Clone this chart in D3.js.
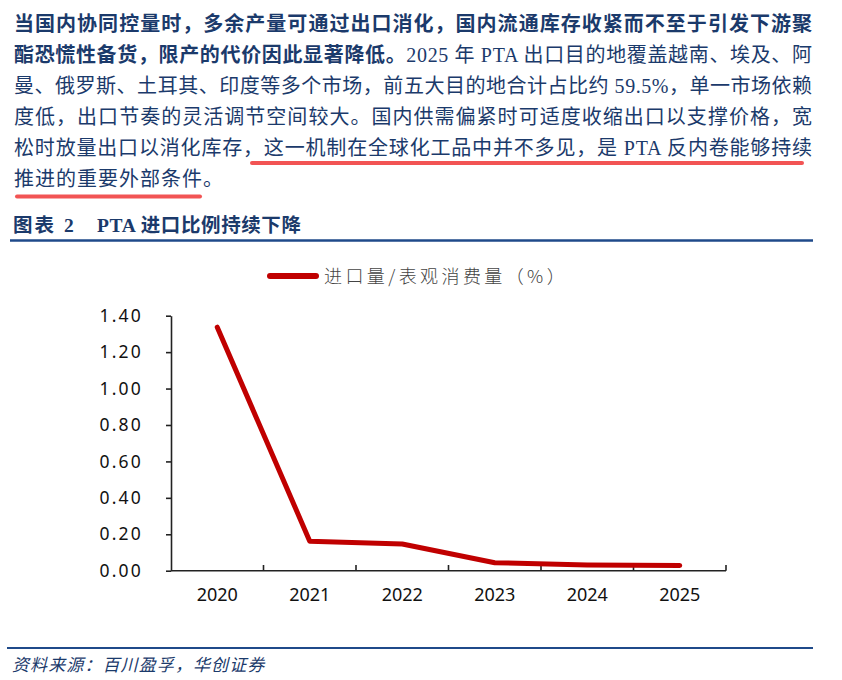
<!DOCTYPE html>
<html><head><meta charset="utf-8">
<script src="https://cdn.jsdelivr.net/npm/d3@7/dist/d3.min.js"></script>
<style>
html,body{margin:0;padding:0;background:#fff;}
svg{display:block;}
</style></head>
<body>
<svg id="c" width="842" height="680"></svg>
<script>
// ---- data ----
const years = ["2020","2021","2022","2023","2024","2025"];
const importRatio = [1.337, 0.162, 0.147, 0.044, 0.031, 0.028];
const yTicks = [0, 0.2, 0.4, 0.6, 0.8, 1.0, 1.2, 1.4];
const seriesName = "进口量/表观消费量（%）";
const chartTitleA = "图表";
const chartTitleNum = "2";
const chartTitleB = "PTA 进口比例持续下降";
const sourceText = "资料来源：百川盈孚，华创证券";
const paraLines = [
  [{t:"当国内协同控量时，多余产量可通过出口消化，国内流通库存收紧而不至于引发下游聚", b:true}],
  [{t:"酯恐慌性备货，限产的代价因此显著降低。", b:true},{t:"2025 年 PTA 出口目的地覆盖越南、埃及、阿", b:false}],
  [{t:"曼、俄罗斯、土耳其、印度等多个市场，前五大目的地合计占比约 59.5%，单一市场依赖", b:false}],
  [{t:"度低，出口节奏的灵活调节空间较大。国内供需偏紧时可适度收缩出口以支撑价格，宽", b:false}],
  [{t:"松时放量出口以消化库存，这一机制在全球化工品中并不多见，是 PTA 反内卷能够持续", b:false}],
  [{t:"推进的重要外部条件。", b:false}]
];

const svg = d3.select("#c");
const navy = "#1b3a6b";
const bodyFont = "'Liberation Serif','Noto Sans CJK SC',serif";

// ---- paragraph ----
const lineY = [30.5, 61.5, 92.5, 123.5, 154.5, 185.5];
paraLines.forEach((parts, i) => {
  const t = svg.append("text")
    .attr("x", 14).attr("y", lineY[i])
    .attr("font-family", bodyFont)
    .attr("font-size", 20)
    .attr("fill", navy);
  if (i < 5) t.attr("textLength", 798).attr("lengthAdjust", "spacing");
  else t.attr("letter-spacing", 1);
  parts.forEach(p => {
    t.append("tspan").text(p.t).attr("font-weight", p.b ? "bold" : "normal");
  });
});
// red underlines
const ulColor = "#f25454";
svg.append("line").attr("x1", 252).attr("x2", 802).attr("y1", 163).attr("y2", 163)
  .attr("stroke", ulColor).attr("stroke-width", 4).attr("stroke-linecap", "round");
svg.append("line").attr("x1", 17).attr("x2", 200).attr("y1", 196.5).attr("y2", 196.5)
  .attr("stroke", ulColor).attr("stroke-width", 4).attr("stroke-linecap", "round");

// ---- chart title ----
const titleAttrs = t => t.attr("font-family", bodyFont).attr("font-size", 19.5)
  .attr("font-weight", "bold").attr("fill", navy);
titleAttrs(svg.append("text").attr("x", 13).attr("y", 232).attr("letter-spacing", 2).text(chartTitleA));
titleAttrs(svg.append("text").attr("x", 64).attr("y", 232).text(chartTitleNum));
titleAttrs(svg.append("text").attr("x", 97).attr("y", 232).attr("letter-spacing", 0.6).text(chartTitleB));
svg.append("line").attr("x1", 10).attr("x2", 813).attr("y1", 240.5).attr("y2", 240.5)
  .attr("stroke", "#1f4a8a").attr("stroke-width", 2.5);

// ---- chart ----
const x = d3.scaleBand().domain(years).range([171, 726]);
const y = d3.scaleLinear().domain([0, 1.4]).range([570.7, 315.7]);
const axisColor = "#222";

// y axis
const yAxis = svg.append("g").attr("transform", "translate(171,0)")
  .call(d3.axisLeft(y).tickValues(yTicks).tickSize(5).tickSizeOuter(0).tickPadding(23)
    .tickFormat(d3.format(".2f")));
yAxis.select(".domain").attr("stroke", axisColor).attr("stroke-width", 1.6);
yAxis.selectAll(".tick line").attr("stroke", axisColor).attr("stroke-width", 1.6);
yAxis.selectAll(".tick text").attr("font-family", "'Noto Sans',sans-serif")
  .attr("font-size", 17.5).attr("letter-spacing", 2.2).attr("fill", "#111");

// x axis (labels at band centers, ticks at band boundaries pointing up)
const xAxis = svg.append("g").attr("transform", "translate(0,570.7)")
  .call(d3.axisBottom(x).tickSize(0).tickPadding(18));
xAxis.select(".domain").remove();
xAxis.selectAll(".tick text").attr("font-family", "'Noto Sans',sans-serif")
  .attr("font-size", 18).attr("fill", "#111");
svg.append("line").attr("x1", x.range()[0]).attr("x2", x.range()[1])
  .attr("y1", 570.7).attr("y2", 570.7).attr("stroke", axisColor).attr("stroke-width", 1.6);
const bounds = years.slice(1).map(d => x(d)).concat([x.range()[1]]);
svg.selectAll(".xb").data(bounds).enter().append("line")
  .attr("x1", d => d).attr("x2", d => d).attr("y1", 570.7).attr("y2", 565)
  .attr("stroke", axisColor).attr("stroke-width", 1.6);

// line
const lineGen = d3.line()
  .x((d, i) => x(years[i]) + x.bandwidth() / 2)
  .y(d => y(d));
svg.append("path").datum(importRatio).attr("d", lineGen)
  .attr("fill", "none").attr("stroke", "#c00000").attr("stroke-width", 5)
  .attr("stroke-linejoin", "round").attr("stroke-linecap", "round");

// legend
svg.append("line").attr("x1", 270).attr("x2", 316).attr("y1", 276).attr("y2", 276)
  .attr("stroke", "#c00000").attr("stroke-width", 6).attr("stroke-linecap", "round");
svg.append("text").attr("x", 324).attr("y", 282.5).text(seriesName)
  .attr("font-family", "'Noto Sans CJK SC',sans-serif").attr("font-size", 18)
  .attr("font-weight", 300).attr("letter-spacing", 3.4).attr("fill", "#444");

// ---- source ----
svg.append("line").attr("x1", 7).attr("x2", 813).attr("y1", 648).attr("y2", 648)
  .attr("stroke", "#1f4a8a").attr("stroke-width", 2);
svg.append("text").attr("x", 12).attr("y", 671).text(sourceText)
  .attr("font-family", "'Noto Sans CJK SC',sans-serif").attr("font-size", 17)
  .attr("letter-spacing", 1.1)
  .attr("font-style", "italic").attr("fill", navy);
</script>
</body></html>
